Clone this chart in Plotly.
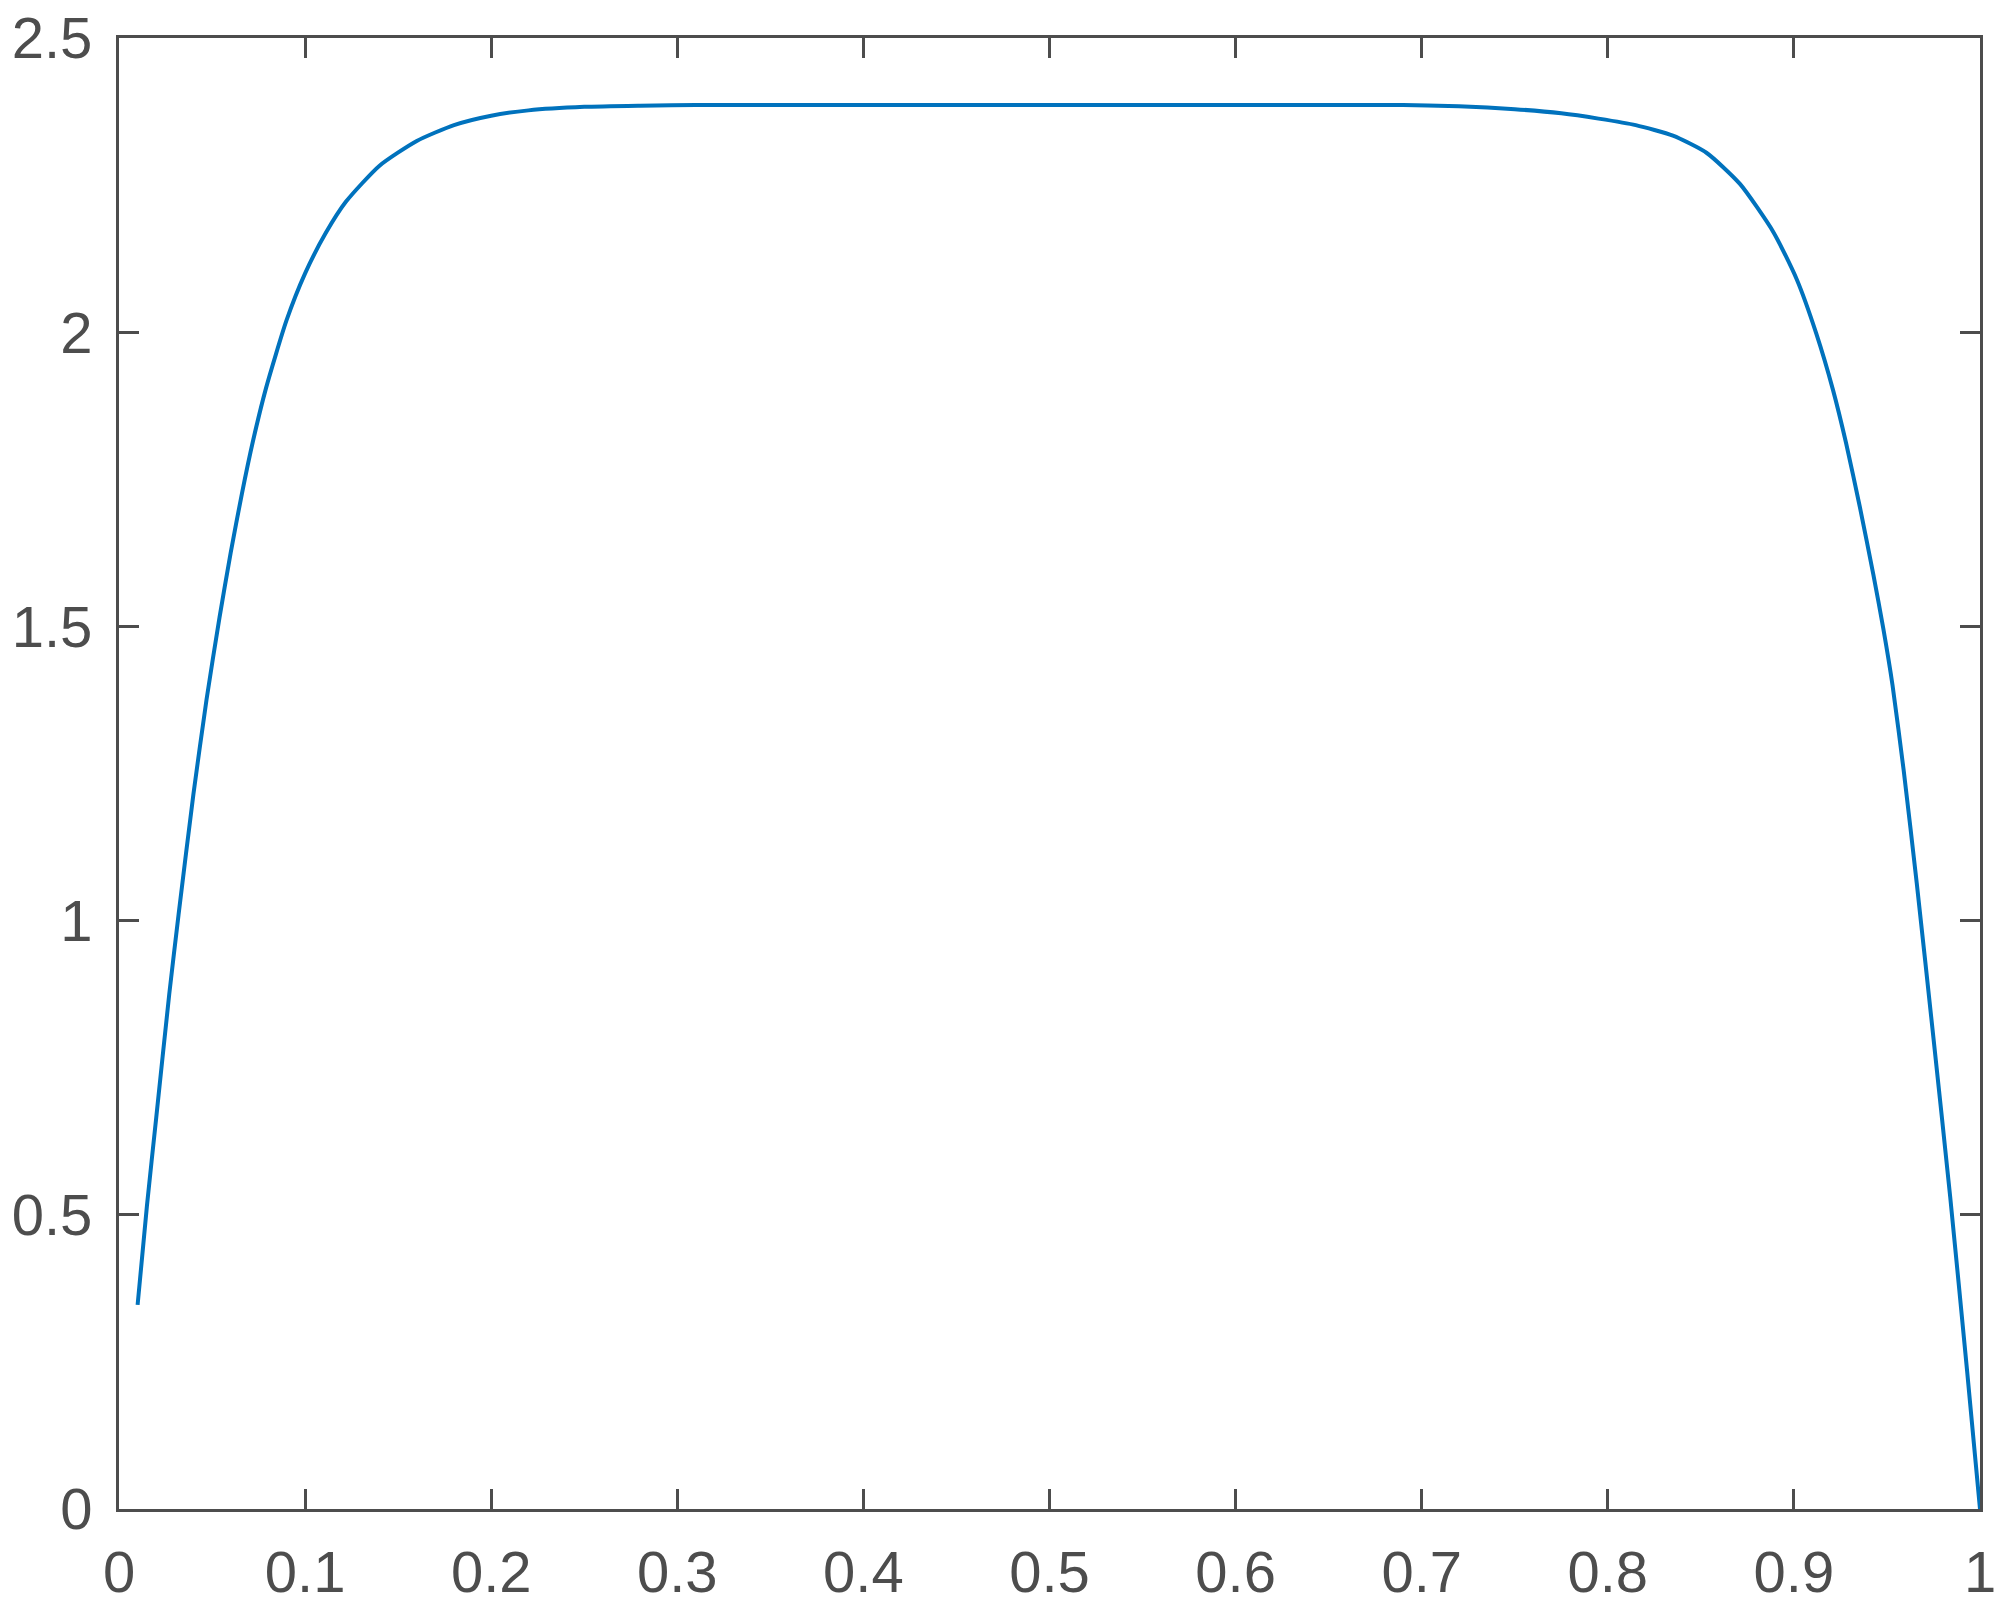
import plotly.graph_objects as go

# ── Theme ──────────────────────────────────────────────────────────────────────
AXIS  = "#4d4d4d"
LINE  = "#0072bd"
FONT  = "Liberation Sans"

# ── Data ───────────────────────────────────────────────────────────────────────
x_vals = [0.01, 0.015, 0.02, 0.027, 0.032, 0.04, 0.047, 0.054, 0.06, 0.066,
          0.072, 0.079, 0.09, 0.1, 0.111, 0.122, 0.14, 0.16, 0.18, 0.2,
          0.22, 0.25, 0.28, 0.31, 0.5, 0.69, 0.72, 0.75, 0.775, 0.795,
          0.815, 0.835, 0.853, 0.871, 0.889, 0.9015, 0.912, 0.921, 0.928, 0.9355,
          0.9427, 0.948, 0.953, 0.959, 0.966, 0.975, 0.984, 0.993, 1.0]
y_vals = [0.347, 0.515, 0.665, 0.875, 1.01, 1.215, 1.375, 1.515, 1.625, 1.725,
          1.815, 1.905, 2.02, 2.1, 2.168, 2.222, 2.283, 2.325, 2.352, 2.368,
          2.377, 2.383, 2.385, 2.386, 2.386, 2.386, 2.384, 2.379, 2.372, 2.363,
          2.352, 2.334, 2.305, 2.252, 2.17, 2.09, 1.998, 1.902, 1.812, 1.702,
          1.588, 1.497, 1.4, 1.255, 1.064, 0.8, 0.53, 0.237, 0.0]

x_ticks = [0, 0.1, 0.2, 0.3, 0.4, 0.5, 0.6, 0.7, 0.8, 0.9, 1]
x_labels = ["0", "0.1", "0.2", "0.3", "0.4", "0.5", "0.6", "0.7", "0.8", "0.9", "1"]
y_ticks = [0, 0.5, 1, 1.5, 2, 2.5]
y_labels = ["0", "0.5", "1", "1.5", "2", "2.5"]

fig = go.Figure(go.Scatter(
    x=x_vals, y=y_vals,
    mode="lines",
    line=dict(color=LINE, width=4, shape="spline", smoothing=0.6),
    showlegend=False,
))

axis_common = dict(
    showline=True, linecolor=AXIS, linewidth=3, mirror="ticks",
    ticks="inside", ticklen=20, tickwidth=3, tickcolor=AXIS,
    showgrid=False, zeroline=False, automargin=False,
    ticklabeloverflow="allow",
    tickfont=dict(family=FONT, size=58, color=AXIS),
)

# page body adds ~8px offset, so margins are shifted to keep the plot box in place
fig.update_layout(
    width=2005, height=1616,
    paper_bgcolor="white", plot_bgcolor="white",
    margin=dict(l=111, r=33, t=30, b=115),
    xaxis=dict(range=[0, 1], tickvals=x_ticks, ticktext=x_labels,
               ticklabelstandoff=10, **axis_common),
    yaxis=dict(range=[0, 2.5], tickvals=y_ticks, ticktext=y_labels,
               ticklabelstandoff=12, **axis_common),
)

fig.write_html("out.html")
